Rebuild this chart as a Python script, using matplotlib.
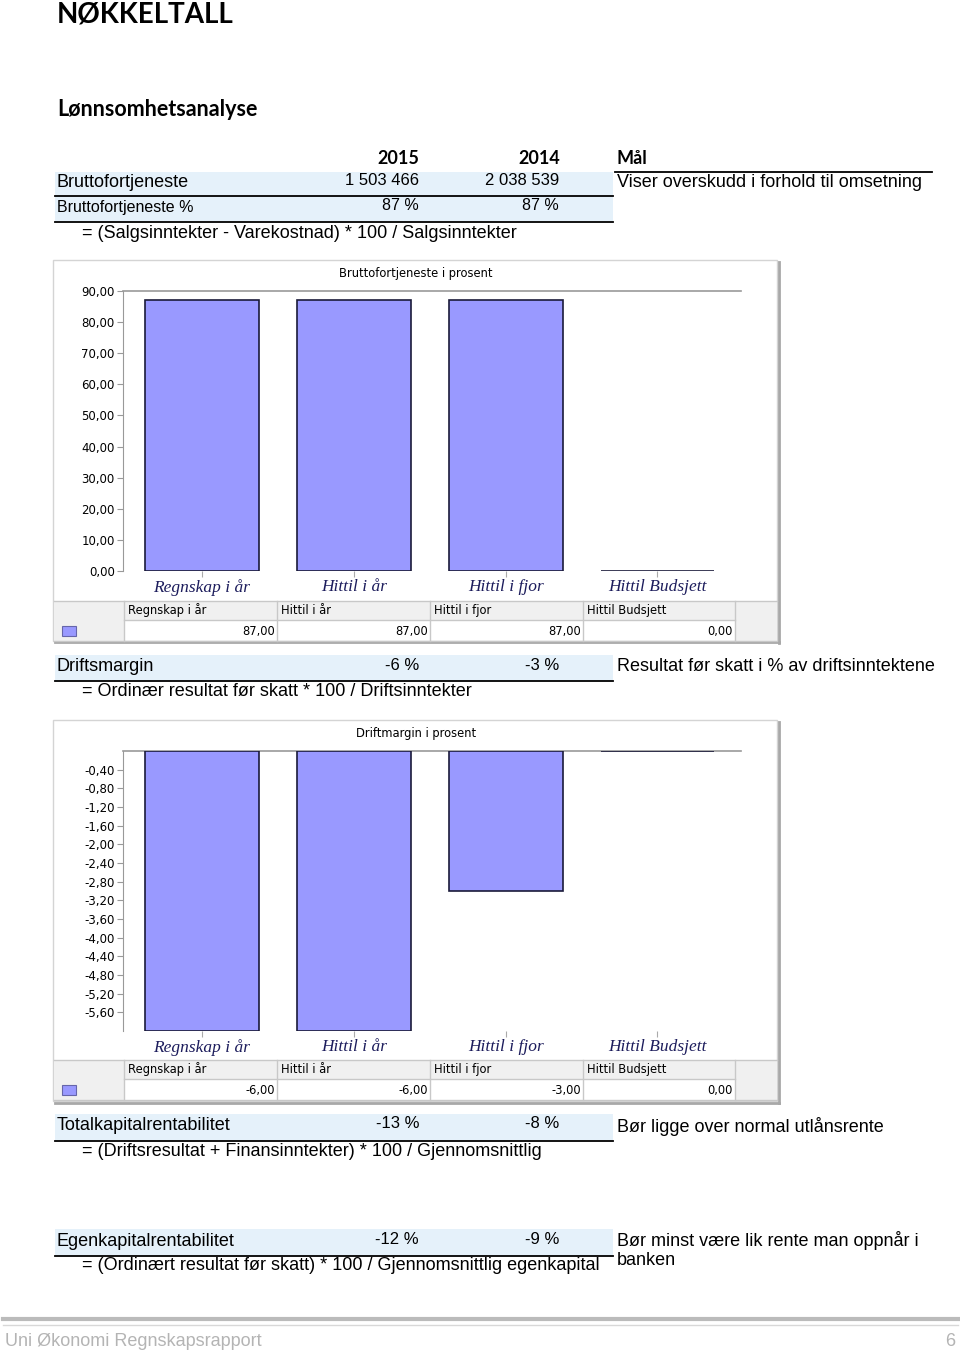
import matplotlib
matplotlib.use("Agg")
import matplotlib.pyplot as plt
from matplotlib.patches import Rectangle
from matplotlib.lines import Line2D

W, H = 960, 1354

# chart data
categories = ["Regnskap i år", "Hittil i år", "Hittil i fjor", "Hittil Budsjett"]
brutto_pct = [87.0, 87.0, 87.0, 0.0]
driftsmargin_pct = [-6.0, -6.0, -3.0, 0.0]

# key figure table
ratio_names = ["Bruttofortjeneste", "Bruttofortjeneste %", "Driftsmargin",
               "Totalkapitalrentabilitet", "Egenkapitalrentabilitet"]
ratio_2015 = ["1 503 466", "87 %", "-6 %", "-13 %", "-12 %"]
ratio_2014 = ["2 038 539", "87 %", "-3 %", "-8 %", "-9 %"]
ratio_goals = ["Viser overskudd i forhold til omsetning", "",
               "Resultat før skatt i % av driftsinntektene",
               "Bør ligge over normal utlånsrente",
               "Bør minst være lik rente man oppnår i\nbanken"]
formulas = ["= (Salgsinntekter - Varekostnad) * 100 / Salgsinntekter",
            "= Ordinær resultat før skatt * 100 / Driftsinntekter",
            "= (Driftsresultat + Finansinntekter) * 100 / Gjennomsnittlig",
            "= (Ordinært resultat før skatt) * 100 / Gjennomsnittlig egenkapital"]

NARROW = ["Liberation Sans Narrow", "Liberation Sans"]
CHART = ["DejaVu Sans"]
HEAD = ["Lato", "DejaVu Sans"]
BAR_COLOR = "#9999ff"
ROW_BG = "#e5f1fa"

fig = plt.figure(figsize=(W / 100, H / 100), dpi=100)
fig.patch.set_facecolor("white")


def fx(x):
    return x / W


def fy(y):
    return 1 - y / H


def put(x, y, s, **kw):
    kw.setdefault("va", "center")
    kw.setdefault("family", NARROW)
    fig.text(fx(x), fy(y), s, **kw)


def rect(x0, y0, x1, y1, **kw):
    kw.setdefault("zorder", 0.5)
    fig.add_artist(Rectangle((fx(x0), fy(y1)), fx(x1) - fx(x0), fy(y0) - fy(y1),
                             transform=fig.transFigure, **kw))


def hline(x0, x1, y, **kw):
    fig.add_artist(Line2D([fx(x0), fx(x1)], [fy(y), fy(y)], transform=fig.transFigure, **kw))


def vline(x, y0, y1, **kw):
    fig.add_artist(Line2D([fx(x), fx(x)], [fy(y0), fy(y1)], transform=fig.transFigure, **kw))


def ratio_row(i, y0, y1, size=13):
    rect(55, y0, 613, y1, facecolor=ROW_BG, edgecolor="none")
    hline(55, 613, y1 + 0.5, color="black", lw=1.3)
    yc = (y0 + y1) / 2 - 1
    put(57, yc, ratio_names[i], fontsize=size)
    put(419, yc - 2, ratio_2015[i], fontsize=min(size, 12), ha="right")
    put(559, yc - 2, ratio_2014[i], fontsize=min(size, 12), ha="right")
    goal = ratio_goals[i]
    if goal:
        if "\n" in goal:
            put(617, yc - 10, goal, fontsize=13, va="top", linespacing=1.15)
        else:
            put(617, yc, goal, fontsize=13)


def fmt(v):
    return f"{v:.2f}".replace(".", ",")


def chart(top, title, values, ylim, ticks, data_top):
    # outer frame with shadow
    rect(53, top, 777, top + 381, facecolor="white", edgecolor="#d4d4d4", lw=1, zorder=0.2)
    vline(778.5, top + 2, top + 383, color="#a8a8a8", lw=2)
    hline(55, 779, top + 382.5, color="#a8a8a8", lw=2)
    put(416, top + 13, title, fontsize=8.3, ha="center", family=CHART)

    ax = fig.add_axes([fx(123), fy(top + 311), fx(741) - fx(123), fy(top + 31) - fy(top + 311)])
    ax.set_zorder(5)
    x = list(range(len(categories)))
    ax.bar(x, values, width=0.75, color=BAR_COLOR, edgecolor="#1a1a3a", lw=1.2, zorder=3)
    ax.set_xlim(-0.52, 3.55)
    ax.set_ylim(*ylim)
    ax.set_yticks(ticks)
    ax.set_yticklabels([fmt(t) for t in ticks], family=CHART, fontsize=8.5)
    ax.set_xticks(x)
    ax.set_xticklabels(categories, family="Liberation Serif", style="italic",
                       fontsize=12.5, color="#1c1c5c")
    ax.tick_params(axis="y", length=4, color="#999999", pad=2)
    ax.tick_params(axis="x", length=4, color="#aaaaaa", pad=2)
    for s in ["right", "bottom"]:
        ax.spines[s].set_visible(False)
    ax.spines["left"].set_color("#999999")
    ax.spines["top"].set_color("#999999")
    ax.spines["top"].set_linewidth(1.2)
    ax.patch.set_alpha(0)

    # data table under the chart
    t0, t1, t2 = data_top, data_top + 19, data_top + 40
    cols = [55, 124, 277, 430, 583, 735]
    rect(54, t0, 777, t1, facecolor="#f0f0f0", edgecolor="none")
    rect(54, t1, 124, t2, facecolor="#f0f0f0", edgecolor="none")
    rect(735, t1, 777, t2, facecolor="#f0f0f0", edgecolor="none")
    hline(54, 777, t0, color="#c8c8c8", lw=1)
    hline(124, 735, t1, color="#c8c8c8", lw=1)
    hline(54, 777, t2, color="#c8c8c8", lw=1)
    for c in cols[1:]:
        vline(c, t0, t2, color="#c8c8c8", lw=1)
    rect(62, t1 + 6, 76, t1 + 16, facecolor=BAR_COLOR, edgecolor="#6666aa", lw=0.8, zorder=1)
    for j, name in enumerate(categories):
        put(cols[j + 1] + 4, (t0 + t1) / 2, name, fontsize=8.3, family=CHART)
        put(cols[j + 2] - 2, (t1 + t2) / 2 + 1, fmt(values[j]), fontsize=8.3, family=CHART, ha="right")


# headings
put(57, 15, "NØKKELTALL", fontsize=20, weight="bold", family=HEAD)
put(57, 110, "Lønnsomhetsanalyse", fontsize=15.5, weight="bold", family=HEAD)
put(419, 159, "2015", fontsize=13, weight="bold", family=HEAD, ha="right")
put(560, 159, "2014", fontsize=13, weight="bold", family=HEAD, ha="right")
put(617, 159, "Mål", fontsize=13, weight="bold", family=HEAD)
hline(615, 932, 171.5, color="black", lw=1.3)

ratio_row(0, 172, 195)
ratio_row(1, 196, 221, size=11.5)
put(82, 233, formulas[0], fontsize=13)

chart(260, "Bruttofortjeneste i prosent", brutto_pct, (0, 90),
      [0, 10, 20, 30, 40, 50, 60, 70, 80, 90], 601)

ratio_row(2, 655, 681)
put(82, 692, formulas[1], fontsize=13)

chart(720, "Driftmargin i prosent", driftsmargin_pct, (-6, 0),
      [-0.4 * k for k in range(1, 15)], 1060)

ratio_row(3, 1114, 1140)
put(82, 1151, formulas[2], fontsize=13)

ratio_row(4, 1229, 1255)
put(82, 1266, formulas[3], fontsize=13)

# footer
hline(3, 958, 1319, color="#bbbbbb", lw=3)
hline(3, 958, 1324.5, color="#d8d8d8", lw=1)
put(5, 1341, "Uni Økonomi Regnskapsrapport", fontsize=13, color="#b4b4b4")
put(955, 1341, "6", fontsize=13, color="#b4b4b4", ha="right")

fig.savefig("out.png", dpi=100)
